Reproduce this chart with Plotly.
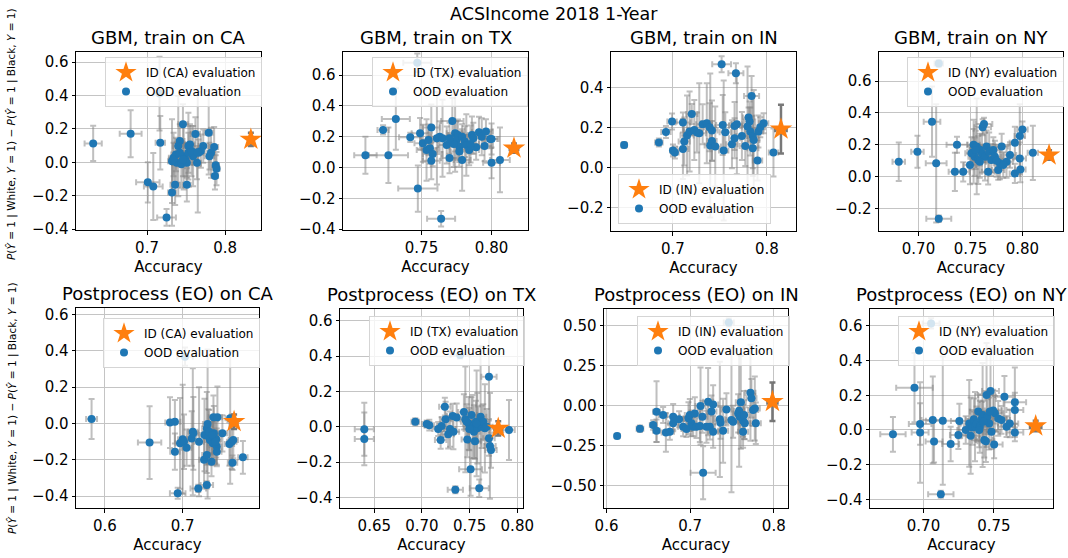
import plotly.graph_objects as go

# ---------------- data ----------------
# GBM, train on CA
GBM_CA_X = [0.631, 0.679, 0.716, 0.717, 0.701, 0.708, 0.725, 0.732, 0.736, 0.751, 0.746, 0.779, 0.762, 0.787, 0.788,
            0.789, 0.786, 0.782, 0.780, 0.772, 0.769, 0.766, 0.764, 0.759, 0.753, 0.742, 0.740, 0.734, 0.732, 0.738,
            0.744, 0.747, 0.749, 0.753, 0.757, 0.737, 0.742, 0.751, 0.755, 0.734, 0.746, 0.765]
GBM_CA_Y = [0.113, 0.171, 0.411, 0.117, -0.120, -0.145, -0.330, -0.180, -0.135, -0.135, 0.228, 0.177, 0.169, -0.082,
            -0.018, -0.038, 0.091, 0.057, 0.037, 0.097, 0.067, 0.057, -0.002, 0.037, 0.097, 0.127, 0.097, 0.027, 0.007,
            -0.002, -0.012, 0.037, 0.017, 0.057, 0.067, 0.047, 0.057, -0.002, 0.107, 0.017, 0.017, 0.060]
GBM_CA_XERR = [0.011, 0.014, 0.008, 0.006, 0.015, 0.012, 0.012, 0.005, 0.006, 0.005, 0.006, 0.005, 0.006, 0.004, 0.004,
               0.004, 0.005, 0.005, 0.006, 0.006, 0.005, 0.006, 0.005, 0.006, 0.007, 0.006, 0.007, 0.006, 0.005, 0.006,
               0.006, 0.007, 0.005, 0.006, 0.006, 0.006, 0.005, 0.006, 0.006, 0.006, 0.006, 0.005]
GBM_CA_YERR = [0.105, 0.14, 0.22, 0.16, 0.12, 0.2, 0.05, 0.2, 0.12, 0.1, 0.12, 0.25, 0.1, 0.08, 0.06,
               0.1, 0.12, 0.15, 0.08, 0.1, 0.1, 0.08, 0.1, 0.18, 0.2, 0.1, 0.3, 0.15, 0.25, 0.12,
               0.14, 0.2, 0.1, 0.12, 0.15, 0.1, 0.08, 0.09, 0.12, 0.1, 0.1, 0.36]
GBM_CA_ID = [0.833, 0.137, 0.003, 0.04]

# GBM, train on TX
GBM_TX_X = [0.710, 0.7226, 0.7264, 0.7317, 0.742, 0.747, 0.7474, 0.764, 0.772, 0.749, 0.757, 0.751, 0.7536, 0.756,
            0.758, 0.757, 0.755, 0.761, 0.763, 0.765, 0.768, 0.770, 0.774, 0.776, 0.775, 0.777, 0.779, 0.781, 0.782,
            0.784, 0.779, 0.786, 0.787, 0.789, 0.791, 0.793, 0.796, 0.795, 0.799, 0.800, 0.800, 0.806, 0.777, 0.773,
            0.785, 0.770]
GBM_TX_Y = [0.079, 0.244, 0.079, 0.315, 0.196, 0.68, -0.137, -0.333, 0.302, 0.222, 0.259, 0.157, 0.114, 0.125,
            0.088, 0.043, 0.179, 0.19, 0.20, 0.19, 0.146, 0.062, 0.222, 0.211, 0.179, 0.136, 0.20, 0.168, 0.146,
            0.114, 0.049, 0.211, 0.19, 0.131, 0.229, 0.20, 0.233, 0.14, 0.185, 0.03, 0.185, 0.049, 0.104, 0.153,
            0.153, 0.19]
GBM_TX_XERR = [0.008, 0.004, 0.014, 0.01, 0.008, 0.01, 0.014, 0.01, 0.008, 0.006, 0.006, 0.006, 0.007, 0.006,
               0.007, 0.006, 0.006, 0.006, 0.006, 0.005, 0.006, 0.006, 0.006, 0.007, 0.005, 0.007, 0.006, 0.006, 0.006,
               0.007, 0.006, 0.006, 0.006, 0.006, 0.005, 0.006, 0.005, 0.006, 0.005, 0.006, 0.005, 0.007, 0.006, 0.006,
               0.006, 0.007]
GBM_TX_YERR = [0.12, 0.03, 0.18, 0.2, 0.03, 0.06, 0.15, 0.05, 0.15, 0.1, 0.15, 0.12, 0.2, 0.1,
               0.08, 0.12, 0.1, 0.3, 0.1, 0.25, 0.12, 0.1, 0.25, 0.1, 0.12, 0.1, 0.08, 0.1, 0.2,
               0.1, 0.2, 0.12, 0.1, 0.08, 0.1, 0.12, 0.08, 0.1, 0.06, 0.1, 0.1, 0.21, 0.1, 0.15,
               0.12, 0.1]
GBM_TX_ID = [0.816, 0.125, 0.003, 0.03]

# GBM, train on IN
GBM_IN_X = [0.648, 0.685, 0.6925, 0.699, 0.700, 0.702, 0.7106, 0.7106, 0.712, 0.715, 0.7177, 0.720, 0.7227, 0.7255,
            0.728, 0.7316, 0.736, 0.739, 0.7415, 0.7397, 0.7415, 0.745, 0.7518, 0.753, 0.754, 0.7557, 0.7628, 0.7656,
            0.767, 0.768, 0.7656, 0.7734, 0.777, 0.7805, 0.7816, 0.7794, 0.7823, 0.7837, 0.785, 0.785, 0.790, 0.791,
            0.793, 0.7965, 0.807, 0.786]
GBM_IN_Y = [0.113, 0.125, 0.178, 0.23, 0.085, 0.075, 0.093, 0.225, 0.13, 0.16, 0.18, 0.268, 0.188, 0.175,
            0.172, 0.217, 0.222, 0.202, 0.185, 0.11, 0.133, 0.105, 0.517, 0.213, 0.085, 0.177, 0.117, 0.208,
            0.472, 0.217, 0.147, 0.158, 0.108, 0.25, 0.23, 0.205, 0.18, 0.358, 0.158, 0.097, 0.035, 0.18,
            0.202, 0.222, 0.075, 0.138]
GBM_IN_XERR = [0.003, 0.004, 0.005, 0.005, 0.003, 0.004, 0.006, 0.008, 0.006, 0.007, 0.006, 0.006, 0.007, 0.006,
               0.007, 0.007, 0.006, 0.006, 0.006, 0.006, 0.005, 0.006, 0.01, 0.007, 0.005, 0.006, 0.006, 0.006,
               0.008, 0.006, 0.006, 0.006, 0.006, 0.006, 0.006, 0.006, 0.006, 0.008, 0.006, 0.006, 0.005, 0.005,
               0.005, 0.005, 0.005, 0.006]
GBM_IN_YERR = [0.015, 0.02, 0.03, 0.04, 0.03, 0.03, 0.15, 0.05, 0.12, 0.2, 0.2, 0.05, 0.15, 0.1,
               0.25, 0.1, 0.2, 0.12, 0.15, 0.36, 0.1, 0.2, 0.04, 0.15, 0.35, 0.1, 0.12, 0.12,
               0.05, 0.25, 0.1, 0.12, 0.1, 0.05, 0.1, 0.3, 0.12, 0.1, 0.2, 0.1, 0.1, 0.08,
               0.05, 0.05, 0.12, 0.25]
GBM_IN_ID = [0.815, 0.192, 0.006, 0.122]

# GBM, train on NY
GBM_NY_X = [0.681, 0.699, 0.713, 0.717, 0.7195, 0.7195, 0.737, 0.735, 0.7495, 0.753, 0.756, 0.759, 0.7617, 0.763,
            0.761, 0.764, 0.7655, 0.768, 0.770, 0.772, 0.7735, 0.767, 0.7767, 0.7783, 0.780, 0.753, 0.754, 0.7575,
            0.759, 0.751, 0.755, 0.7847, 0.788, 0.7927, 0.7927, 0.7974, 0.798, 0.7974, 0.800, 0.810, 0.7751, 0.7815,
            0.743]
GBM_NY_Y = [0.094, 0.157, 0.345, 0.084, 0.71, -0.263, 0.20, 0.031, 0.073, 0.20, 0.19, 0.17, 0.31, 0.33,
            0.147, 0.126, 0.19, 0.157, 0.105, 0.168, 0.126, 0.031, 0.042, 0.084, 0.19, 0.157, 0.126, 0.105,
            0.094, 0.147, 0.168, 0.094, 0.136, 0.213, 0.021, 0.115, 0.046, 0.255, 0.297, 0.15, 0.10, 0.073,
            0.031]
GBM_NY_XERR = [0.006, 0.006, 0.008, 0.01, 0.004, 0.012, 0.01, 0.006, 0.006, 0.006, 0.006, 0.006, 0.008, 0.008,
               0.006, 0.006, 0.006, 0.006, 0.006, 0.006, 0.006, 0.006, 0.006, 0.006, 0.006, 0.006, 0.006, 0.006,
               0.006, 0.006, 0.006, 0.006, 0.006, 0.005, 0.005, 0.006, 0.005, 0.005, 0.005, 0.005, 0.006, 0.006,
               0.006]
GBM_NY_YERR = [0.12, 0.1, 0.22, 0.37, 0.02, 0.02, 0.05, 0.12, 0.12, 0.1, 0.3, 0.1, 0.05, 0.04,
               0.12, 0.15, 0.1, 0.12, 0.1, 0.08, 0.1, 0.08, 0.06, 0.1, 0.08, 0.2, 0.12, 0.15,
               0.1, 0.1, 0.12, 0.1, 0.08, 0.1, 0.06, 0.1, 0.08, 0.2, 0.05, 0.17, 0.1, 0.08,
               0.06]
GBM_NY_ID = [0.8256, 0.136, 0.003, 0.03]

# Postprocess (EO) on CA
EO_CA_X = [0.583, 0.6575, 0.6837, 0.690, 0.690, 0.6936, 0.703, 0.6966, 0.700, 0.7017, 0.705, 0.7116, 0.713, 0.7137,
           0.720, 0.721, 0.7275, 0.731, 0.731, 0.728, 0.731, 0.732, 0.733, 0.735, 0.737, 0.7386, 0.7395, 0.740,
           0.743, 0.7438, 0.7438, 0.7395, 0.7446, 0.751, 0.734, 0.760, 0.763, 0.765, 0.764, 0.7773, 0.761, 0.7378,
           0.742]
EO_CA_Y = [0.024, -0.106, 0.004, 0.009, -0.156, -0.385, 0.367, -0.11, -0.088, -0.101, -0.134, -0.083, -0.046, -0.055,
           -0.358, -0.101, -0.20, -0.339, -0.174, -0.064, -0.028, -0.004, -0.073, -0.092, -0.211, -0.11, -0.073, -0.055,
           -0.088, -0.128, -0.156, 0.033, 0.033, -0.055, -0.046, -0.114, -0.101, -0.092, -0.217, -0.187, 0.028, -0.064,
           -0.101]
EO_CA_XERR = [0.007, 0.015, 0.006, 0.007, 0.006, 0.01, 0.01, 0.006, 0.006, 0.006, 0.006, 0.006, 0.006, 0.006,
              0.01, 0.006, 0.006, 0.008, 0.006, 0.006, 0.006, 0.006, 0.006, 0.006, 0.006, 0.006, 0.006, 0.006,
              0.006, 0.006, 0.006, 0.006, 0.006, 0.006, 0.006, 0.006, 0.006, 0.006, 0.006, 0.006, 0.006, 0.006,
              0.006]
EO_CA_YERR = [0.11, 0.2, 0.14, 0.12, 0.1, 0.03, 0.05, 0.25, 0.3, 0.15, 0.1, 0.15, 0.35, 0.2,
              0.02, 0.3, 0.15, 0.02, 0.1, 0.2, 0.2, 0.41, 0.15, 0.1, 0.08, 0.12, 0.1, 0.15,
              0.1, 0.1, 0.08, 0.12, 0.17, 0.1, 0.12, 0.12, 0.15, 0.1, 0.04, 0.09, 0.36, 0.1,
              0.12]
EO_CA_ID = [0.766, 0.009, 0.004, 0.04]

# Postprocess (EO) on TX
EO_TX_X = [0.6395, 0.6395, 0.693, 0.705, 0.7077, 0.717, 0.7206, 0.7196, 0.724, 0.7248, 0.7276, 0.7294, 0.7322, 0.733,
           0.7364, 0.740, 0.744, 0.7455, 0.7476, 0.749, 0.751, 0.752, 0.7531, 0.7545, 0.7556, 0.7566, 0.758, 0.759,
           0.7601, 0.7615, 0.7626, 0.7643, 0.7497, 0.7469, 0.735, 0.7703, 0.7703, 0.7713, 0.7724, 0.7573, 0.7913,
           0.766, 0.768]
EO_TX_Y = [-0.014, -0.069, 0.028, 0.015, 0.009, -0.013, 0.004, -0.075, 0.114, 0.042, -0.043, -0.013, 0.061, -0.028,
           0.052, 0.407, 0.084, 0.042, -0.073, 0.019, -0.241, 0.067, 0.0, -0.028, -0.082, 0.028, -0.009, 0.015,
           -0.349, 0.057, 0.0, 0.028, -0.013, 0.028, -0.358, -0.065, 0.284, -0.109, -0.132, 0.019, -0.018,
           -0.009, 0.0]
EO_TX_XERR = [0.01, 0.01, 0.004, 0.005, 0.005, 0.006, 0.005, 0.006, 0.006, 0.006, 0.006, 0.006, 0.006, 0.006,
              0.006, 0.01, 0.006, 0.006, 0.006, 0.006, 0.012, 0.006, 0.006, 0.006, 0.006, 0.006, 0.006, 0.006,
              0.01, 0.006, 0.006, 0.006, 0.006, 0.006, 0.008, 0.006, 0.008, 0.006, 0.006, 0.006, 0.006,
              0.006, 0.006]
EO_TX_YERR = [0.15, 0.15, 0.02, 0.02, 0.03, 0.04, 0.05, 0.05, 0.05, 0.1, 0.08, 0.1, 0.07, 0.1,
              0.08, 0.02, 0.1, 0.3, 0.1, 0.15, 0.15, 0.1, 0.18, 0.15, 0.1, 0.12, 0.2, 0.1,
              0.05, 0.4, 0.12, 0.1, 0.12, 0.1, 0.02, 0.1, 0.24, 0.3, 0.1, 0.3, 0.17,
              0.25, 0.1]
EO_TX_ID = [0.780, -0.009, 0.004, 0.04]

# Postprocess (EO) on IN
EO_IN_X = [0.6127, 0.640, 0.6558, 0.6598, 0.6598, 0.6677, 0.671, 0.6757, 0.6797, 0.6797, 0.6868, 0.6916, 0.6956,
           0.698, 0.6996, 0.7016, 0.7036, 0.7056, 0.7076, 0.7116, 0.7124, 0.7147, 0.7155, 0.7195, 0.7215, 0.7235,
           0.7255, 0.7275, 0.7275, 0.7355, 0.7363, 0.7394, 0.7434, 0.7462, 0.7494, 0.7514, 0.7574, 0.7586, 0.7594,
           0.7606, 0.7633, 0.7633, 0.7645, 0.7653, 0.7721, 0.7733, 0.7753, 0.7773, 0.7785]
EO_IN_Y = [-0.19, -0.144, -0.121, -0.0375, -0.156, -0.058, -0.167, -0.163, -0.069, -0.11, -0.085, -0.131, -0.146,
           -0.079, -0.058, -0.11, -0.131, -0.048, -0.131, -0.127, -0.002, -0.069, -0.419, -0.131, 0.025, -0.131,
           -0.037, 0.008, -0.163, -0.085, -0.106, -0.156, -0.023, 0.519, -0.09, -0.10, -0.048, -0.031, -0.069,
           0.021, -0.094, -0.163, -0.058, -0.11, 0.081, 0.046, -0.027, -0.017, -0.11]
EO_IN_XERR = [0.003, 0.004, 0.004, 0.004, 0.004, 0.005, 0.005, 0.005, 0.008, 0.006, 0.006, 0.006, 0.006,
              0.006, 0.006, 0.006, 0.006, 0.006, 0.006, 0.006, 0.006, 0.006, 0.015, 0.006, 0.006, 0.006,
              0.006, 0.006, 0.006, 0.006, 0.006, 0.006, 0.006, 0.006, 0.006, 0.006, 0.006, 0.006, 0.006,
              0.006, 0.006, 0.006, 0.006, 0.006, 0.006, 0.006, 0.006, 0.006, 0.006]
EO_IN_YERR = [0.015, 0.02, 0.03, 0.19, 0.07, 0.05, 0.12, 0.05, 0.08, 0.05, 0.05, 0.06, 0.05,
              0.1, 0.1, 0.08, 0.06, 0.1, 0.07, 0.1, 0.24, 0.1, 0.165, 0.1, 0.21, 0.08,
              0.1, 0.12, 0.1, 0.36, 0.1, 0.2, 0.1, 0.025, 0.45, 0.1, 0.12, 0.35, 0.1,
              0.29, 0.1, 0.1, 0.15, 0.1, 0.3, 0.12, 0.1, 0.2, 0.13]
EO_IN_ID = [0.7984, 0.025, 0.006, 0.12]

# Postprocess (EO) on NY
EO_NY_X = [0.6783, 0.6936, 0.6976, 0.6976, 0.7054, 0.7066, 0.7075, 0.7137, 0.7193, 0.7123, 0.7248, 0.7255, 0.730,
           0.7325, 0.7335, 0.7347, 0.7358, 0.7366, 0.7377, 0.7389, 0.740, 0.7413, 0.742, 0.7432, 0.7443, 0.7448,
           0.7453, 0.7467, 0.7476, 0.7483, 0.7495, 0.7507, 0.7502, 0.7531, 0.7554, 0.7575, 0.759, 0.7613, 0.7649,
           0.7649, 0.7649, 0.7425, 0.7396, 0.7472]
EO_NY_Y = [-0.025, 0.244, 0.035, -0.015, 0.615, 0.058, -0.067, 0.054, -0.081, -0.371, -0.029, 0.052, 0.0,
           0.038, -0.033, 0.015, 0.062, 0.019, 0.035, 0.106, 0.019, 0.062, 0.087, -0.058, -0.065, 0.202,
           0.077, 0.038, 0.225, -0.01, 0.112, 0.096, -0.083, 0.067, 0.058, 0.192, 0.019, 0.038, 0.16,
           0.115, -0.015, 0.048, 0.0, 0.106]
EO_NY_XERR = [0.009, 0.013, 0.008, 0.006, 0.006, 0.008, 0.006, 0.012, 0.006, 0.009, 0.006, 0.006, 0.006,
              0.006, 0.006, 0.006, 0.006, 0.006, 0.006, 0.006, 0.006, 0.006, 0.006, 0.006, 0.006, 0.006,
              0.006, 0.006, 0.006, 0.006, 0.006, 0.006, 0.006, 0.006, 0.006, 0.006, 0.006, 0.006, 0.008,
              0.006, 0.006, 0.006, 0.006, 0.006]
EO_NY_YERR = [0.1, 0.2, 0.12, 0.29, 0.03, 0.25, 0.12, 0.37, 0.1, 0.02, 0.08, 0.1, 0.08,
              0.25, 0.22, 0.1, 0.12, 0.2, 0.1, 0.1, 0.15, 0.1, 0.3, 0.1, 0.12, 0.3,
              0.1, 0.15, 0.25, 0.1, 0.12, 0.1, 0.08, 0.1, 0.08, 0.12, 0.06, 0.08, 0.2,
              0.1, 0.05, 0.12, 0.1, 0.12]
EO_NY_ID = [0.7797, 0.023, 0.004, 0.03]

TITLES = ["GBM, train on CA", "GBM, train on TX", "GBM, train on IN", "GBM, train on NY",
          "Postprocess (EO) on CA", "Postprocess (EO) on TX", "Postprocess (EO) on IN", "Postprocess (EO) on NY"]
STATES = ["CA", "TX", "IN", "NY", "CA", "TX", "IN", "NY"]
SUPTITLE = "ACSIncome 2018 1-Year"
XLABEL = "Accuracy"
YLABEL = ("<i>P</i>(<i>Ŷ</i> = 1 | White, <i>Y</i> = 1) − "
          "<i>P</i>(<i>Ŷ</i> = 1 | Black, <i>Y</i> = 1)")

SERIES = [
    (GBM_CA_X, GBM_CA_Y, GBM_CA_XERR, GBM_CA_YERR, GBM_CA_ID),
    (GBM_TX_X, GBM_TX_Y, GBM_TX_XERR, GBM_TX_YERR, GBM_TX_ID),
    (GBM_IN_X, GBM_IN_Y, GBM_IN_XERR, GBM_IN_YERR, GBM_IN_ID),
    (GBM_NY_X, GBM_NY_Y, GBM_NY_XERR, GBM_NY_YERR, GBM_NY_ID),
    (EO_CA_X, EO_CA_Y, EO_CA_XERR, EO_CA_YERR, EO_CA_ID),
    (EO_TX_X, EO_TX_Y, EO_TX_XERR, EO_TX_YERR, EO_TX_ID),
    (EO_IN_X, EO_IN_Y, EO_IN_XERR, EO_IN_YERR, EO_IN_ID),
    (EO_NY_X, EO_NY_Y, EO_NY_XERR, EO_NY_YERR, EO_NY_ID),
]

# ---------------- layout settings ----------------
W, H = 1068, 558
FONT = "DejaVu Sans"
BLUE = "#1f77b4"
ORANGE = "#ff7f0e"

# axes pixel boxes (left, right, top, bottom)
BOXES = [(76, 261, 52, 230), (343, 528, 52, 230), (611, 796, 52, 231), (879, 1063, 52, 231),
         (76, 259, 308, 508), (340, 523, 309, 508), (604, 788, 309, 508), (870, 1053, 309, 508)]
XRANGES = [[0.609, 0.846], [0.694, 0.826], [0.634, 0.831], [0.662, 0.839],
           [0.563, 0.798], [0.614, 0.806], [0.597, 0.817], [0.662, 0.792]]
YRANGES = [[-0.405, 0.66], [-0.406, 0.75], [-0.317, 0.578], [-0.34, 0.782],
           [-0.466, 0.635], [-0.461, 0.668], [-0.639, 0.604], [-0.45, 0.698]]
XTICKS = [[0.7, 0.8], [0.75, 0.80], [0.7, 0.8], [0.70, 0.75, 0.80],
          [0.6, 0.7], [0.65, 0.70, 0.75, 0.80], [0.6, 0.7, 0.8], [0.70, 0.75]]
XFMT = [".1f", ".2f", ".1f", ".2f", ".1f", ".2f", ".1f", ".2f"]
YTICKS = [[-0.4, -0.2, 0, 0.2, 0.4, 0.6], [-0.4, -0.2, 0, 0.2, 0.4, 0.6], [-0.2, 0, 0.2, 0.4],
          [-0.2, 0, 0.2, 0.4, 0.6], [-0.4, -0.2, 0, 0.2, 0.4, 0.6], [-0.4, -0.2, 0, 0.2, 0.4, 0.6],
          [-0.5, -0.25, 0, 0.25, 0.5], [-0.4, -0.2, 0, 0.2, 0.4, 0.6]]
YFMT = [".1f", ".1f", ".1f", ".1f", ".1f", ".1f", ".2f", ".1f"]
# legend anchors in pixels (left, top-or-bottom, anchor)
LEGPOS = [(105, 57, "top"), (372, 57, "top"), (618, 224, "bottom"), (907, 57, "top"),
          (103, 318, "top"), (369, 316, "top"), (637, 316, "top"), (898, 316, "top")]

fig = go.Figure()
annotations = []
layout = dict(
    width=W, height=H, margin=dict(l=0, r=0, t=0, b=0, autoexpand=False),
    plot_bgcolor="white", paper_bgcolor="white",
    font=dict(family=FONT, size=15, color="black"),
    showlegend=True,
)

for i, (xs, ys, xe, ye, idv) in enumerate(SERIES):
    n = i + 1
    xa = "x" if n == 1 else f"x{n}"
    ya = "y" if n == 1 else f"y{n}"
    leg = "legend" if n == 1 else f"legend{n}"
    fig.add_trace(go.Scatter(
        x=xs, y=ys, mode="markers", xaxis=xa, yaxis=ya, legend=leg, legendrank=2,
        name="OOD evaluation",
        marker=dict(color=BLUE, size=8, line=dict(width=0)),
        error_x=dict(type="data", array=xe, color="rgba(128,128,128,0.5)", thickness=2, width=3),
        error_y=dict(type="data", array=ye, color="rgba(128,128,128,0.5)", thickness=2, width=3),
    ))
    fig.add_trace(go.Scatter(
        x=[idv[0]], y=[idv[1]], mode="markers", xaxis=xa, yaxis=ya, legend=leg, legendrank=1,
        name=f"ID ({STATES[i]}) evaluation",
        marker=dict(color=ORANGE, symbol="star", size=17, line=dict(width=0)),
        error_x=dict(type="data", array=[idv[2]], color="rgba(105,105,105,0.9)", thickness=2.5, width=3),
        error_y=dict(type="data", array=[idv[3]], color="rgba(105,105,105,0.9)", thickness=2.5, width=3),
    ))
    l, r, t, b = BOXES[i]
    axcommon = dict(showline=True, linecolor="black", linewidth=1, mirror=True,
                    ticks="outside", ticklen=3.5, tickwidth=1, tickcolor="black",
                    showgrid=True, gridcolor="#c4c4c4", gridwidth=1, zeroline=False,
                    tickfont=dict(size=15, family=FONT))
    layout["xaxis" if n == 1 else f"xaxis{n}"] = dict(
        axcommon, domain=[l / W, r / W], anchor=ya, range=XRANGES[i],
        tickvals=XTICKS[i], tickformat=XFMT[i],
        title=dict(text=XLABEL, font=dict(size=15, family=FONT), standoff=5))
    layout["yaxis" if n == 1 else f"yaxis{n}"] = dict(
        axcommon, domain=[1 - b / H, 1 - t / H], anchor=xa, range=YRANGES[i],
        tickvals=YTICKS[i], tickformat=YFMT[i])
    lx, ly, anc = LEGPOS[i]
    layout[leg] = dict(
        x=lx / W, y=1 - ly / H, xanchor="left", yanchor=anc,
        bgcolor="rgba(255,255,255,0.8)", bordercolor="#d5d5d5", borderwidth=1,
        font=dict(size=12, family=FONT), tracegroupgap=0, itemsizing="trace")
    annotations.append(dict(
        text=TITLES[i], x=(l + r) / 2 / W, y=1 - t / H, xref="paper", yref="paper",
        xanchor="center", yanchor="bottom", yshift=2, showarrow=False,
        font=dict(size=18, family=FONT)))

annotations.append(dict(text=SUPTITLE, x=554 / W, y=1 - 2 / H, xref="paper", yref="paper",
                        xanchor="center", yanchor="top", showarrow=False, font=dict(size=17.5, family=FONT)))
for cy in (134, 408):
    annotations.append(dict(text=YLABEL, x=12 / W, y=1 - cy / H, xref="paper", yref="paper",
                            xanchor="center", yanchor="middle", textangle=-90, showarrow=False,
                            font=dict(size=10.5, family=FONT)))
layout["annotations"] = annotations
fig.update_layout(**layout)
fig.write_html("out.html", config={"displayModeBar": False},
               post_script="document.body.style.margin='0';document.body.style.overflow='hidden';")
